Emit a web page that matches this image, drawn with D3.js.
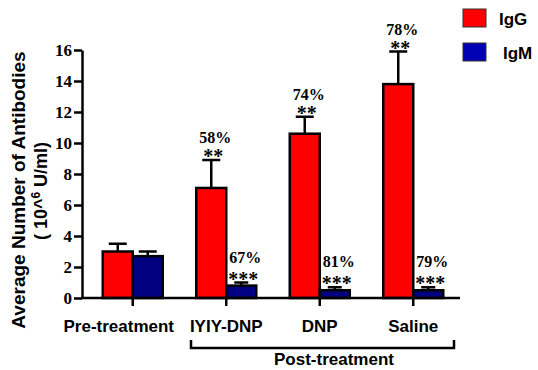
<!DOCTYPE html>
<html>
<head>
<meta charset="utf-8">
<script src="https://cdn.jsdelivr.net/npm/d3@7"></script>
<style>
  body { margin: 0; background: #fff; }
</style>
</head>
<body>
<script>
var groups = ['Pre-treatment', 'IYIY-DNP', 'DNP', 'Saline'],
    series = ['IgG', 'IgM'],
    igg = [3.0, 7.1, 10.6, 13.8],
    iggErr = [3.5, 8.9, 11.7, 15.9],
    igm = [2.7, 0.8, 0.5, 0.5],
    igmErr = [3.0, 1.0, 0.7, 0.7],
    iggPct = ['', '58%', '74%', '78%'],
    iggStars = ['', '**', '**', '**'],
    igmPct = ['', '67%', '81%', '79%'],
    igmStars = ['', '***', '***', '***'],
    yTicks = [0, 2, 4, 6, 8, 10, 12, 14, 16];

var svgwidth = 538, svgheight = 370,
    margin = { top: 50, left: 82, bottom: 72, right: 78 },
    colors = { IgG: '#ff0000', IgM: '#000080' },
    legendColors = { IgG: '#ff0000', IgM: '#0000b4' };

var svg = d3.select('body').append('svg')
    .attr('width', svgwidth)
    .attr('height', svgheight);

var y = d3.scaleLinear()
    .domain([0, 16])
    .range([svgheight - margin.bottom, margin.top]);

var x0 = d3.scaleBand()
    .domain(groups)
    .range([86, 460]);

var x1 = d3.scaleBand()
    .domain(series)
    .range([0, 60]);

// rows: one per bar
var rows = [];
groups.forEach(function (g, i) {
    rows.push({ g: g, s: 'IgG', v: igg[i], e: iggErr[i], pct: iggPct[i], stars: iggStars[i] });
    rows.push({ g: g, s: 'IgM', v: igm[i], e: igmErr[i], pct: igmPct[i], stars: igmStars[i] });
});
function bx(d) { return x0(d.g) + x0.bandwidth() / 2 - 30 + x1(d.s); }
function cx(d) { return bx(d) + x1.bandwidth() / 2; }

// error bars (drawn under the bars)
var capw = 18;
svg.selectAll('.err')
    .data(rows)
    .enter().append('path')
    .attr('class', 'err')
    .attr('fill', 'none')
    .attr('stroke', '#000')
    .attr('stroke-width', 2.5)
    .attr('d', function (d) {
        var c = cx(d), cw = d.s === 'IgM' && d.v < 1 ? 14 : capw;
        return 'M' + c + ',' + y(d.v) + 'V' + y(d.e) + 'M' + (c - cw / 2) + ',' + y(d.e) + 'H' + (c + cw / 2);
    });

// bars
svg.selectAll('.bar')
    .data(rows)
    .enter().append('rect')
    .attr('class', 'bar')
    .attr('x', bx)
    .attr('width', x1.bandwidth())
    .attr('y', function (d) { return y(d.v); })
    .attr('height', function (d) { return y(0) - y(d.v); })
    .attr('fill', function (d) { return colors[d.s]; })
    .attr('stroke', '#000')
    .attr('stroke-width', 2.5);

// significance labels: percent on top, stars below
var sigRows = rows.filter(function (d) { return d.pct; });
svg.selectAll('.pct')
    .data(sigRows)
    .enter().append('text')
    .attr('class', 'pct')
    .attr('x', function (d) { return cx(d) + 4; })
    .attr('y', function (d) { return y(d.e) - (d.s === 'IgM' ? 20 : 17); })
    .attr('text-anchor', 'middle')
    .attr('font-family', 'Liberation Serif, Times New Roman, serif')
    .attr('font-weight', 'bold')
    .attr('font-size', '16px')
    .text(function (d) { return d.pct; });
svg.selectAll('.stars')
    .data(sigRows)
    .enter().append('text')
    .attr('class', 'stars')
    .attr('x', function (d) { return cx(d) + 2; })
    .attr('y', function (d) { return y(d.e) + 3; })
    .attr('text-anchor', 'middle')
    .attr('font-family', 'Liberation Serif, Times New Roman, serif')
    .attr('font-weight', 'bold')
    .attr('font-size', '20px')
    .text(function (d) { return d.stars; });

// y axis
var yaxis = d3.axisLeft(y)
    .tickValues(yTicks)
    .tickSize(8)
    .tickSizeOuter(0)
    .tickPadding(2);
var gy = svg.append('g')
    .attr('transform', 'translate(' + margin.left + ',0)')
    .call(yaxis);
gy.selectAll('path, line').attr('stroke', '#000').attr('stroke-width', 2.5);
gy.selectAll('text')
    .attr('font-family', 'Liberation Serif, Times New Roman, serif')
    .attr('font-weight', 'bold')
    .attr('font-size', '17px')
    .attr('fill', '#000');

// x axis
var xaxis = d3.axisBottom(x0)
    .tickSize(8)
    .tickSizeOuter(0)
    .tickPadding(14);
var gx = svg.append('g')
    .attr('transform', 'translate(0,' + y(0) + ')')
    .call(xaxis);
gx.select('.domain').attr('d', 'M' + (margin.left - 1) + ',0H' + x0.range()[1]);
gx.selectAll('path, line').attr('stroke', '#000').attr('stroke-width', 2.5);
gx.selectAll('text')
    .attr('font-family', 'Liberation Sans, Arial, sans-serif')
    .attr('font-weight', 'bold')
    .attr('font-size', '17px')
    .attr('fill', '#000')
    .attr('dx', function (d) { return d === 'Pre-treatment' ? -14 : 0; });

// y axis title
svg.append('text')
    .attr('transform', 'translate(25,190) rotate(-90)')
    .attr('text-anchor', 'middle')
    .attr('font-family', 'Liberation Sans, Arial, sans-serif')
    .attr('font-weight', 'bold')
    .attr('font-size', '19px')
    .text('Average Number of Antibodies');
var t2 = svg.append('text')
    .attr('transform', 'translate(47,191) rotate(-90)')
    .attr('text-anchor', 'middle')
    .attr('font-family', 'Liberation Sans, Arial, sans-serif')
    .attr('font-weight', 'bold')
    .attr('font-size', '18px');
t2.append('tspan').text('( 10^');
t2.append('tspan').attr('dy', -7).attr('font-size', '12px').text('6');
t2.append('tspan').attr('dy', 7).text(' U/ml)');

// post-treatment bracket
var bl = 191, br = 454, byy = 348;
svg.append('path')
    .attr('fill', 'none')
    .attr('stroke', '#000')
    .attr('stroke-width', 2.5)
    .attr('d', 'M' + bl + ',' + (byy - 8) + 'V' + byy + 'H' + br + 'V' + (byy - 8));
svg.append('text')
    .attr('x', 334)
    .attr('y', 365)
    .attr('text-anchor', 'middle')
    .attr('font-family', 'Liberation Sans, Arial, sans-serif')
    .attr('font-weight', 'bold')
    .attr('font-size', '17px')
    .text('Post-treatment');

// legend
var leg = svg.selectAll('.leg')
    .data(series)
    .enter().append('g')
    .attr('transform', function (d, i) { return 'translate(463,' + (9 + i * 34) + ')'; });
leg.append('rect')
    .attr('width', 23)
    .attr('height', 18)
    .attr('fill', function (d) { return legendColors[d]; })
    .attr('stroke', '#333')
    .attr('stroke-width', 1);
leg.append('text')
    .attr('x', function (d, i) { return i === 0 ? 36 : 40; })
    .attr('y', 16)
    .attr('font-family', 'Liberation Sans, Arial, sans-serif')
    .attr('font-weight', 'bold')
    .attr('font-size', '17px')
    .text(function (d) { return d; });
</script>
</body>
</html>
